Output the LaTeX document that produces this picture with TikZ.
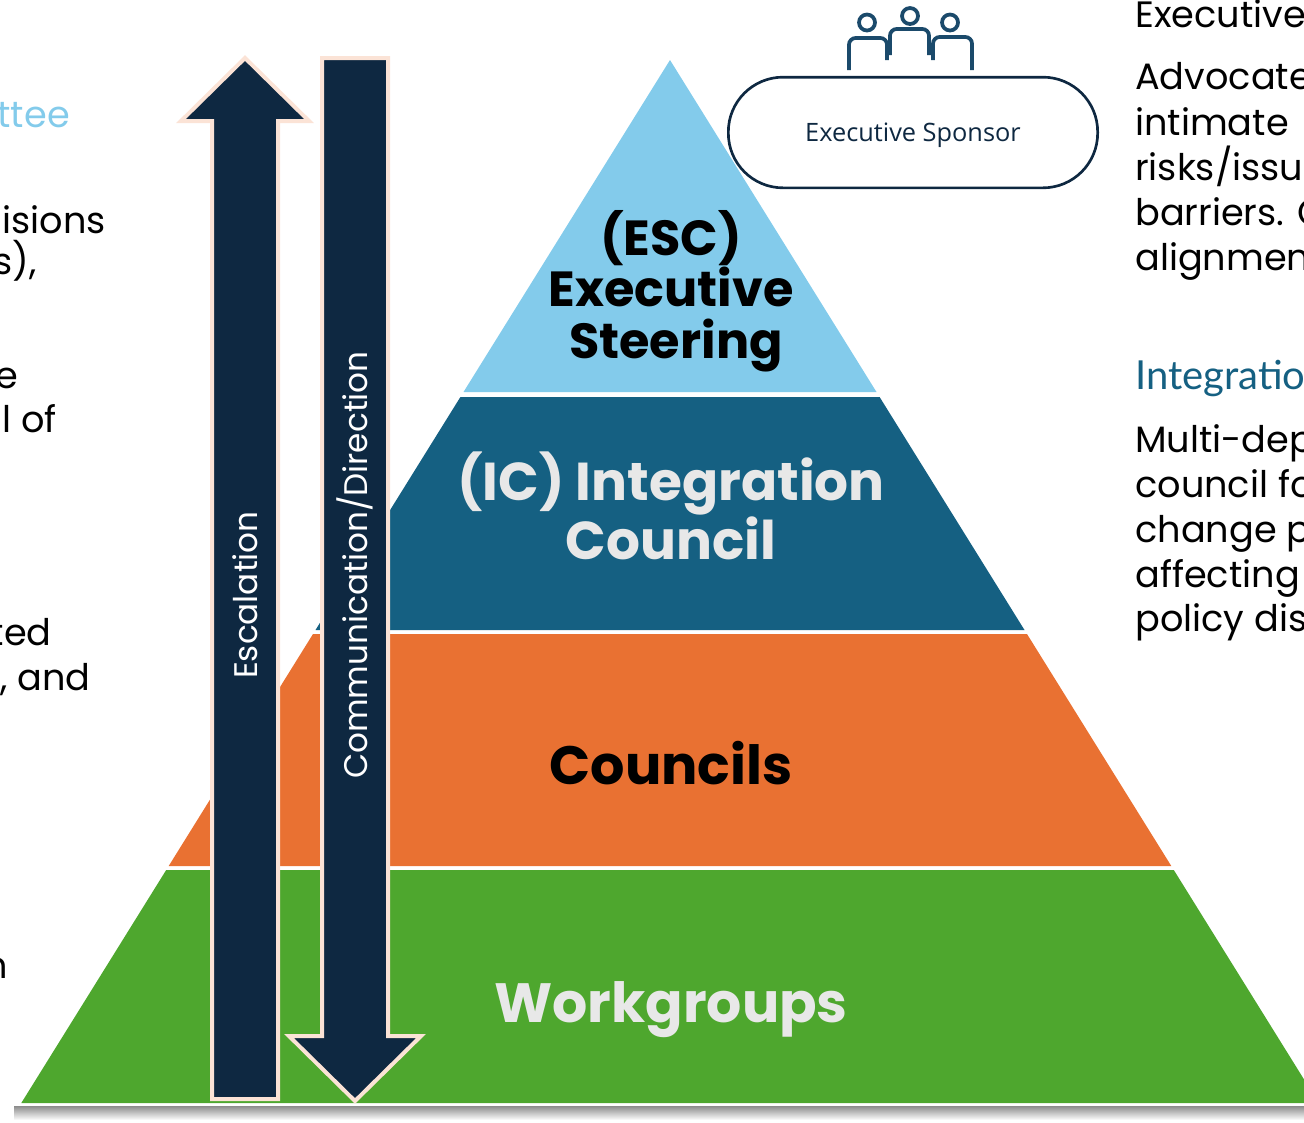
\documentclass[tikz,border=0pt]{standalone}
\usepackage{fontspec}
\setmainfont{Poppins}
\newfontfamily\latofont{Lato}
\newfontfamily\sponsorfont{Open Sans}
\definecolor{escblue}{HTML}{83CBEB}
\definecolor{icblue}{HTML}{156082}
\definecolor{councilorange}{HTML}{E97132}
\definecolor{wggreen}{HTML}{4EA72E}
\definecolor{navy}{HTML}{0E2841}
\definecolor{peach}{HTML}{FBE3D6}
\definecolor{lightgrey}{HTML}{E8E8E8}
\definecolor{icon}{HTML}{1B4A6B}
\definecolor{headblue}{HTML}{156082}
\definecolor{headlight}{HTML}{83CBEB}
\begin{document}
\begin{tikzpicture}[x=0.75pt,y=-0.75pt,
  lab/.style={inner sep=0pt, anchor=base},
  bodyL/.style={inner sep=0pt, anchor=base west, font=\fontsize{27.5}{34}\selectfont},
  bodyR/.style={inner sep=0pt, anchor=base east, font=\fontsize{27.5}{34}\selectfont},
  arrowshape/.style={fill=navy, draw=peach, line width=3pt, line join=miter},
  arrowtext/.style={inner sep=0pt, rotate=90, text=white, font=\fontsize{24.5}{30}\selectfont},
  iconline/.style={draw=icon, line width=2.8pt, rounded corners=5pt}]
\useasboundingbox (0,0) rectangle (1304,1122);
\clip (0,0) rectangle (1304,1122);
% shadow under base
\shade[top color=black!45, bottom color=white] (14,1106) rectangle (1304,1120);
% pyramid layers
\fill[escblue] (670,60) -- (876.5,392) -- (463.5,392) -- cycle;
\fill[icblue] (460.4,397) -- (879.6,397) -- (1024.5,630) -- (315.5,630) -- cycle;
\fill[councilorange] (313,634) -- (1027,634) -- (1171.3,866) -- (168.7,866) -- cycle;
\fill[wggreen] (166.2,870) -- (1173.8,870) -- (1318.7,1103) -- (21.3,1103) -- cycle;
% arrows
\path[arrowshape] (212,1099) -- (212,121) -- (181,121) -- (245,58) -- (309,121) -- (278,121) -- (278,1099) -- cycle;
\path[arrowshape] (322,58) -- (388,58) -- (388,1036) -- (421,1036) -- (355,1101) -- (289,1036) -- (322,1036) -- cycle;
\node[arrowtext] (esc-lab) at (245,595) {Escalation};
\node[arrowtext] (com-lab) at (355,565) {Communication/Direction};
% pyramid texts
\node[lab, font=\fontsize{37}{37}\bfseries] (esc1) at (671,255) {(ESC)};
\node[lab, font=\fontsize{37}{37}\bfseries] (esc2) at (671,306) {Executive};
\node[lab, font=\fontsize{37}{37}\bfseries] (esc3) at (676,358) {Steering};
\node[lab, text=lightgrey, font=\fontsize{40}{40}\bfseries] (ic1) at (671,500) {(IC) Integration};
\node[lab, text=lightgrey, font=\fontsize{40}{40}\bfseries] (ic2) at (671,559) {Council};
\node[lab, font=\fontsize{40.5}{40}\bfseries] (co) at (671,784) {Councils};
\node[lab, text=lightgrey, font=\fontsize{41.5}{42}\bfseries] (wg) at (671,1022) {Workgroups};
% executive sponsor
\path[iconline] (849,70) -- (849,38) -- (887,38) -- (887,60);
\path[iconline] (890,55) -- (890,29) -- (929,29) -- (929,55);
\path[iconline] (933,60) -- (933,37) -- (972,37) -- (972,70);
\draw[icon, line width=2.8pt, fill=white] (844,77) arc[start angle=180, end angle=0, x radius=66.5, y radius=29];
\draw[icon, line width=2.8pt] (867,22.5) circle[radius=8];
\draw[icon, line width=2.8pt] (910,16) circle[radius=8];
\draw[icon, line width=2.8pt] (950,22.5) circle[radius=8];
\node[draw=navy, line width=2pt, fill=white, rounded corners=41pt, minimum width=277pt, minimum height=83pt, inner sep=0pt] (sponsor) at (913,132.5) {};
\node[inner sep=0pt, text=navy, font=\sponsorfont\fontsize{19}{22}\selectfont] (sponsor-lab) at (913,135) {Executive Sponsor};
% right column
\node[bodyL] (r0) at (1135,27) {Executive};
\node[bodyL] (r1) at (1135,89) {Advocate};
\node[bodyL] (r2) at (1135,135) {intimate};
\node[bodyL] (r3) at (1135,180) {risks/issu};
\node[bodyL] (r4) at (1135,225) {barriers. C};
\node[bodyL] (r5) at (1135,270) {alignmen};
\node[bodyL, text=headblue, font=\latofont\fontsize{30}{34}\selectfont] (r6) at (1135,389) {Integratio};
\node[bodyL] (r7) at (1135,452) {Multi-dep};
\node[bodyL] (r8) at (1135,497) {council fo};
\node[bodyL] (r9) at (1135,542) {change p};
\node[bodyL] (r10) at (1135,587) {affecting};
\node[bodyL] (r11) at (1135,631) {policy dis};
% left column
\node[bodyR, text=headlight] (l0) at (70,127) {ttee};
\node[bodyR] (l1) at (106,233) {isions};
\node[bodyR] (l2) at (37,274) {s),};
\node[bodyR] (l3) at (19,388) {e};
\node[bodyR] (l4) at (57,432) {l of};
\node[bodyR] (l5) at (52,645) {ted};
\node[bodyL] (l6) at (0,690) {, and};
\node[bodyR] (l7) at (8,978) {n};
\end{tikzpicture}
\end{document}
